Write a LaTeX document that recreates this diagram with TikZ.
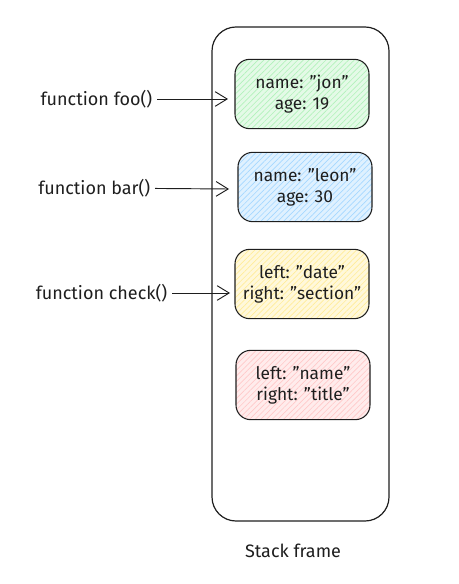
\documentclass[tikz,border=0pt]{standalone}
\usepackage{fontspec}
\setmainfont{Fira Sans}
\usetikzlibrary{patterns.meta,arrows.meta}

\definecolor{hgreen}{HTML}{B2F2BB}
\definecolor{hblue}{HTML}{A5D8FF}
\definecolor{hyellow}{HTML}{FFEC99}
\definecolor{hred}{HTML}{FFC9C9}
\definecolor{ink}{HTML}{1E1E1E}

\newcommand{\qstr}[1]{\symbol{34}#1\symbol{34}}

\tikzset{
    framebox/.style={draw=ink,line width=0.9pt,rounded corners=18pt},
    varbox/.style={draw=ink,line width=0.8pt,rounded corners=11pt,minimum width=100.5pt,minimum height=52pt,align=center,text=ink,font=\fontsize{13}{15.5}\selectfont},
    fnlabel/.style={font=\fontsize{13.5}{15}\selectfont,text=ink},
    callarrow/.style={draw=ink,line width=0.7pt,-{Straight Barb[length=9pt,width=11pt]}}
}

\begin{document}
\begin{tikzpicture}[x=0.75pt,y=-0.75pt]
    \useasboundingbox (0,0) rectangle (458,584);
    \draw[framebox] (212,27) rectangle (389,521);

    % the four frame entries
    \node[varbox,preaction={fill=hgreen!35},pattern={Lines[angle=45,distance=3pt,line width=0.5pt]},pattern color=hgreen] (foovars) at (302,94) {name: \qstr{jon}\\age: 19};
    \node[varbox,preaction={fill=hblue!35},pattern={Lines[angle=45,distance=3pt,line width=0.5pt]},pattern color=hblue] (barvars) at (305,187) {name: \qstr{leon}\\age: 30};
    \node[varbox,preaction={fill=hyellow!35},pattern={Lines[angle=45,distance=3pt,line width=0.5pt]},pattern color=hyellow] (checkvars) at (302,284) {left: \qstr{date}\\right: \qstr{section}};
    \node[varbox,preaction={fill=hred!35},pattern={Lines[angle=45,distance=3pt,line width=0.5pt]},pattern color=hred] (namevars) at (303,385) {left: \qstr{name}\\right: \qstr{title}};

    % callers
    \node[fnlabel,anchor=east] (foo) at (157,99) {function foo()};
    \node[fnlabel,anchor=east] (bar) at (155,188) {function bar()};
    \node[fnlabel,anchor=east] (check) at (172,293) {function check()};
    \coordinate (fooend) at (228,99);
    \coordinate (barend) at (229,189);
    \coordinate (checkend) at (230,293);
    \draw[callarrow] (foo) -- (fooend);
    \draw[callarrow] (bar) -- (barend);
    \draw[callarrow] (check) -- (checkend);

    \node[fnlabel] (stack) at (293,551) {Stack frame};
\end{tikzpicture}
\end{document}
